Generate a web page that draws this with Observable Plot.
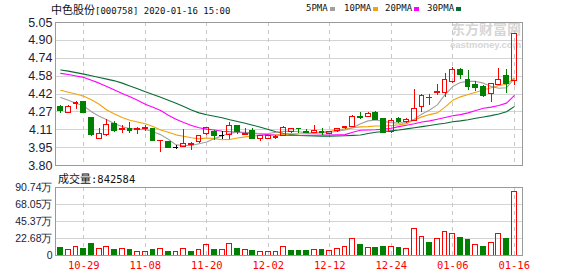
<!DOCTYPE html>
<html><head><meta charset="utf-8">
<script src="https://cdn.jsdelivr.net/npm/d3@7"></script>
<script src="https://cdn.jsdelivr.net/npm/@observablehq/plot@0.6"></script>
<style>
body{margin:0;background:#fff;}
#wrap{position:relative;width:578px;height:276px;overflow:hidden;background:#fff;}
.abs{position:absolute;white-space:nowrap;line-height:13px;}
.cjk{font-family:"Noto Sans CJK SC",sans-serif;}
.mono{font-family:"DejaVu Sans Mono",monospace;}
#wrap svg{position:absolute;left:0;}
</style></head><body><div id="wrap"></div>
<script>
const dates = ["10-24","10-25","10-28","10-29","10-30","10-31",
"11-01","11-04","11-05","11-06","11-07","11-08","11-11","11-12","11-13","11-14","11-15","11-18","11-19","11-20","11-21","11-22","11-25","11-26","11-27","11-28","11-29",
"12-02","12-03","12-04","12-05","12-06","12-09","12-10","12-11","12-12","12-13","12-16","12-17","12-18","12-19","12-20","12-23","12-24","12-25","12-26","12-27","12-30","12-31",
"01-02","01-03","01-06","01-07","01-08","01-09","01-10","01-13","01-14","01-15","01-16"];
const open = [4.309,4.257,4.336,4.353,4.214,4.034,4.069,4.159,4.113,4.121, 4.110,4.118,4.118,4.010,4.003,3.956,3.962,3.976,4.002,4.072, 4.092,4.060,4.063,4.142,4.066,4.098,4.031,4.034,4.040,4.055, 4.089,4.121,4.092,4.083,4.089,4.078,4.098,4.124,4.138,4.224, 4.222,4.263,4.205,4.090,4.203,4.176,4.190,4.310,4.392,4.434, 4.435,4.532,4.634,4.545,4.508,4.482,4.421,4.508,4.579,4.536];
const high = [4.324,4.321,4.356,4.361,4.220,4.121,4.199,4.188,4.150,4.173, 4.136,4.150,4.127,4.018,4.005,3.971,4.112,4.000,4.058,4.136, 4.107,4.101,4.179,4.142,4.121,4.121,4.055,4.055,4.063,4.142, 4.127,4.121,4.115,4.150,4.121,4.089,4.127,4.139,4.234,4.260, 4.263,4.275,4.214,4.208,4.216,4.208,4.465,4.420,4.425,4.512, 4.605,4.658,4.645,4.630,4.536,4.502,4.516,4.645,4.636,4.948];
const low = [4.251,4.251,4.286,4.254,4.055,4.034,4.055,4.092,4.078,4.083, 4.069,4.101,4.014,3.913,3.947,3.942,3.962,3.933,3.991,4.063, 4.020,4.031,4.025,4.072,4.060,4.031,4.008,4.028,4.025,4.055, 4.083,4.078,4.078,4.078,4.066,4.072,4.092,4.113,4.133,4.202, 4.216,4.193,4.082,4.082,4.168,4.170,4.190,4.262,4.321,4.410, 4.394,4.514,4.548,4.453,4.445,4.395,4.350,4.502,4.430,4.502];
const close = [4.280,4.315,4.350,4.257,4.069,4.072,4.156,4.101,4.118,4.104, 4.121,4.124,4.014,4.016,3.953,3.956,3.991,3.985,4.055,4.130, 4.057,4.060,4.142,4.092,4.078,4.031,4.055,4.055,4.045,4.127, 4.118,4.116,4.083,4.104,4.082,4.089,4.121,4.133,4.225,4.218, 4.254,4.202,4.088,4.190,4.177,4.195,4.292,4.410,4.386,4.440, 4.550,4.638,4.590,4.482,4.474,4.405,4.510,4.550,4.516,4.948];
const volume = [100000,70000,109000,87000,153000,83000,109000,75000,83000,75000, 43000,43000,75000,83000,48000,43000,83000,48000,75000,135000, 75000,70000,148000,87000,70000,61000,43000,43000,43000,114000, 61000,61000,61000,70000,75000,57000,83000,109000,214000,139000, 96000,100000,114000,109000,100000,83000,358000,253000,166000,214000, 319000,293000,232000,205000,135000,114000,162000,293000,218000,842584];
const volumeUp = [0,1,1,0,0,1,1,0,1,0, 1,1,0,1,0,1,1,0,1,1, 0,1,1,0,1,0,1,1,1,1, 0,0,0,1,0,1,1,1,1,0, 1,0,0,1,0,1,1,1,0,1, 1,1,0,0,1,0,1,1,0,1];
const ma5 = [4.395,4.37,4.345,4.32,4.27,4.23,4.20,4.165,4.14,4.122, 4.118,4.115,4.095,4.07,4.03,3.98,3.975,3.975,3.99,4.005, 4.035,4.06,4.08,4.092,4.09,4.085,4.078,4.08,4.09,4.098, 4.10,4.095,4.085,4.083,4.085,4.09,4.10,4.11,4.13,4.165, 4.19,4.198,4.185,4.175,4.17,4.175,4.205,4.25,4.285,4.33, 4.42,4.49,4.525,4.535,4.535,4.52,4.49,4.475,4.48,4.56];
const ma10 = [4.458,4.44,4.425,4.405,4.375,4.335,4.285,4.25,4.22,4.195, 4.18,4.165,4.14,4.11,4.09,4.068,4.055,4.043,4.033,4.04, 4.035,4.025,4.028,4.04,4.05,4.058,4.062,4.063,4.066,4.072, 4.078,4.078,4.08,4.085,4.095,4.10,4.11,4.12,4.13,4.138, 4.14,4.145,4.145,4.15,4.155,4.165,4.20,4.225,4.245,4.26, 4.31,4.37,4.40,4.42,4.44,4.46,4.48,4.50,4.51,4.565];
const ma20 = [4.605,4.595,4.583,4.570,4.545,4.52,4.49,4.46,4.43,4.40, 4.37,4.335,4.31,4.28,4.24,4.205,4.175,4.15,4.13,4.118, 4.11,4.10,4.095,4.09,4.085,4.08,4.075,4.07,4.067,4.065, 4.062,4.062,4.063,4.065,4.066,4.067,4.068,4.07,4.09,4.108, 4.11,4.113,4.118,4.125,4.14,4.152,4.165,4.18,4.19,4.205, 4.22,4.235,4.245,4.26,4.28,4.30,4.31,4.325,4.345,4.41];
const ma30 = [4.635,4.625,4.612,4.599,4.585,4.57,4.555,4.54,4.52,4.495, 4.47,4.445,4.42,4.396,4.37,4.345,4.315,4.285,4.26,4.243, 4.23,4.217,4.20,4.185,4.17,4.152,4.135,4.115,4.095,4.08, 4.07,4.063,4.06,4.058,4.057,4.057,4.058,4.06,4.063,4.067, 4.08,4.09,4.097,4.103,4.11,4.12,4.13,4.14,4.15,4.16, 4.17,4.183,4.19,4.20,4.213,4.224,4.236,4.25,4.27,4.315];
const priceTicks = [3.8, 3.95625, 4.1125, 4.26875, 4.425, 4.58125, 4.7375, 4.89375, 5.05];
const priceTickLabels = ["3.80","3.95","4.11","4.27","4.42","4.58","4.74","4.90","5.05"];
const volumeTicks = [0, 226850, 453700, 680550, 907400];
const volumeTickLabels = ["0","22.68万","45.37万","68.05万","90.74万"];
const xLabels = ["10-29","11-08","11-20","12-02","12-12","12-24","01-06","01-16"];
const maNames = ["5PMA","10PMA","20PMA","30PMA"];
const maColors = ["#a0a0a0","#f0a30a","#ff00ff","#0a6b35"];

const rows = dates.map((date, i) => ({i, date, open: open[i], high: high[i], low: low[i], close: close[i],
  volume: volume[i], volUp: volumeUp[i], ma5: ma5[i], ma10: ma10[i], ma20: ma20[i], ma30: ma30[i]}));
const upRows = rows.filter(d => d.close > d.open);
const downRows = rows.filter(d => d.close < d.open);
const flatRows = rows.filter(d => d.close === d.open);
const labelIdx = xLabels.map(l => dates.indexOf(l));
const HW = 0.31;
const xDomain = [-0.68, 60.08];
const RED = "#ff0000", GREEN = "#008000";
const lookup = (ticks, labels) => v => labels[ticks.findIndex(t => Math.abs(t - v) < 1e-6)];
const bodyTop = d => Math.max(d.open, d.close), bodyBot = d => Math.min(d.open, d.close);
const crisp = {shapeRendering: "crispEdges"};

function candles(data, color, fill) {
  return [
    Plot.ruleX(data, {x: "i", y1: bodyTop, y2: "high", stroke: color, ...crisp}),
    Plot.ruleX(data, {x: "i", y1: "low", y2: bodyBot, stroke: color, ...crisp}),
    Plot.rect(data, {x1: d => d.i - HW, x2: d => d.i + HW, y1: "open", y2: "close", fill, stroke: color, ...crisp})
  ];
}

const price = Plot.plot({
  width: 578, height: 173,
  marginLeft: 55, marginRight: 56, marginTop: 22, marginBottom: 8,
  x: {type: "linear", domain: xDomain, axis: null},
  y: {domain: [3.8, 5.05], ticks: priceTicks, tickFormat: lookup(priceTicks, priceTickLabels), tickSize: 0, tickPadding: 3, label: null},
  style: {fontFamily: "Liberation Sans, Arial, sans-serif", fontSize: "12.5px", color: "#1c1c3c", background: "transparent"},
  marks: [
    Plot.ruleY(priceTicks.slice(1, -1), {stroke: "#d4d4d4", ...crisp}),
    Plot.ruleX(labelIdx, {stroke: "#c8c8c8", strokeDasharray: "4,4", ...crisp}),
    Plot.line(rows, {x: "i", y: "ma30", stroke: maColors[3], strokeWidth: 1.1}),
    Plot.line(rows, {x: "i", y: "ma20", stroke: maColors[2], strokeWidth: 1.1}),
    Plot.line(rows, {x: "i", y: "ma10", stroke: maColors[1], strokeWidth: 1.1}),
    Plot.line(rows, {x: "i", y: "ma5", stroke: maColors[0], strokeWidth: 1.1}),
    ...candles(upRows, RED, "none"),
    ...candles(downRows, GREEN, GREEN),
    Plot.ruleX(flatRows, {x: "i", y1: "low", y2: "high", stroke: "#000", ...crisp}),
    Plot.ruleY(flatRows, {y: "close", x1: d => d.i - HW, x2: d => d.i + HW, stroke: "#000", ...crisp}),
    Plot.frame({stroke: "#9a9a9a", ...crisp})
  ]
});

const volUpRows = rows.filter(d => d.volUp), volDownRows = rows.filter(d => !d.volUp);
const vol = Plot.plot({
  width: 578, height: 111,
  marginLeft: 55, marginRight: 56, marginTop: 22, marginBottom: 21,
  x: {type: "linear", domain: xDomain, ticks: labelIdx, tickFormat: i => dates[i], tickSize: 0, tickPadding: 6, label: null},
  y: {domain: [0, 907400], ticks: volumeTicks, tickFormat: lookup(volumeTicks, volumeTickLabels), tickSize: 0, tickPadding: 3, label: null},
  style: {fontFamily: "Liberation Sans, Arial, sans-serif", fontSize: "10.5px", color: "#1c1c3c", background: "transparent"},
  marks: [
    Plot.ruleY(volumeTicks.slice(1, -1), {stroke: "#d4d4d4", ...crisp}),
    Plot.ruleX(labelIdx, {stroke: "#c8c8c8", strokeDasharray: "4,4", ...crisp}),
    Plot.rect(volDownRows, {x1: d => d.i - HW, x2: d => d.i + HW, y1: d => 0, y2: "volume", fill: GREEN, stroke: GREEN, ...crisp}),
    Plot.rect(volUpRows, {x1: d => d.i - HW, x2: d => d.i + HW, y1: d => 0, y2: "volume", fill: "none", stroke: RED, ...crisp}),
    Plot.frame({stroke: "#9a9a9a", ...crisp})
  ]
});

const wrap = document.getElementById("wrap");

// watermark
const wm1 = document.createElement("div");
wm1.className = "abs cjk";
wm1.style.cssText = "left:451px;top:21px;font-size:14px;font-weight:bold;color:#d6d6d6;line-height:14px;";
wm1.textContent = "东方财富网";
wrap.appendChild(wm1);
const wm2 = document.createElement("div");
wm2.className = "abs";
wm2.style.cssText = "left:450px;top:40px;font-size:9.5px;font-weight:bold;color:#d6d6d6;font-family:'Liberation Sans',Arial,sans-serif;line-height:9px;";
wm2.textContent = "eastmoney.com";
wrap.appendChild(wm2);

price.style.top = "0px";
vol.style.top = "165px";
wrap.appendChild(price);
wrap.appendChild(vol);

d3.select(vol).selectAll('[aria-label="x-axis tick label"]')
  .attr("fill", RED).style("font-family", "DejaVu Sans Mono, monospace").style("font-size", "10.5px");

// title
const title = document.createElement("div");
title.className = "abs";
title.style.cssText = "left:51px;top:2px;color:#111;";
title.innerHTML = '<span class="cjk" style="font-size:11px">中色股份</span><span class="mono" style="font-size:9px">[000758] 2020-01-16 15:00</span>';
wrap.appendChild(title);

// legend
const legX = [306, 344, 385, 427];
maNames.forEach((name, k) => {
  const t = document.createElement("div");
  t.className = "abs mono";
  t.style.cssText = `left:${legX[k]}px;top:2px;font-size:9px;color:#111;`;
  t.textContent = name;
  wrap.appendChild(t);
  const sw = document.createElement("div");
  sw.className = "abs";
  sw.style.cssText = `left:${legX[k] + name.length * 5.42 + 2}px;top:7px;width:5px;height:4px;background:${maColors[k]};`;
  wrap.appendChild(sw);
});

// volume label
const vl = document.createElement("div");
vl.className = "abs";
vl.style.cssText = "left:58px;top:171px;color:#111;";
vl.innerHTML = '<span class="cjk" style="font-size:11px">成交量</span><span class="mono" style="font-size:10.5px">:' + volume[volume.length - 1] + '</span>';
wrap.appendChild(vl);
</script></body></html>
